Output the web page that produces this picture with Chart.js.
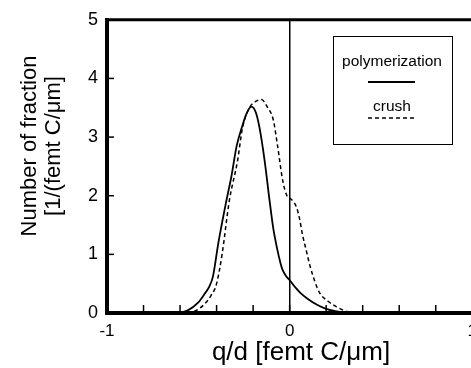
<!DOCTYPE html>
<html><head><meta charset="utf-8">
<script src="https://cdn.jsdelivr.net/npm/chart.js@4/dist/chart.umd.min.js"></script>
<style>html,body{margin:0;padding:0;background:#fff;overflow:hidden}#wrap{width:485px;height:368px}</style>
</head><body><div id="wrap"><canvas id="c" width="485" height="368"></canvas></div>
<script>
const seriesNames = ["polymerization", "crush"];
const polyX = [-0.62,-0.56,-0.50,-0.467,-0.44,-0.42,-0.39,-0.346,-0.32,-0.29,-0.26,-0.236,-0.21,-0.185,-0.165,-0.137,-0.11,-0.09,-0.07,-0.05,-0.038,-0.02,0,0.03,0.06,0.1,0.15,0.2,0.25,0.31];
const polyY = [0,0.04,0.18,0.32,0.45,0.62,1.2,1.92,2.31,2.85,3.18,3.4,3.52,3.42,3.16,2.6,1.92,1.45,1.12,0.85,0.73,0.63,0.56,0.44,0.34,0.24,0.14,0.07,0.03,0];
const crushX = [-0.56,-0.52,-0.47,-0.43,-0.40,-0.37,-0.33,-0.285,-0.258,-0.22,-0.19,-0.154,-0.12,-0.09,-0.066,-0.038,-0.015,0,0.02,0.038,0.055,0.07,0.09,0.11,0.14,0.165,0.21,0.26,0.3,0.35];
const crushY = [0,0.03,0.14,0.3,0.5,1.0,1.92,2.6,3.16,3.5,3.6,3.64,3.5,3.3,2.85,2.26,2.0,1.96,1.9,1.8,1.6,1.34,1.08,0.82,0.52,0.34,0.2,0.1,0.04,0];
const xTickValues = [-1,-0.8,-0.6,-0.4,-0.2,0,0.2,0.4,0.6,0.8,1];
const xTickLabels = {"-1":"-1","0":"0","1":"1"};
const yTickValues = [0,1,2,3,4,5];
const xTitle = "q/d [femt C/\u03bcm]";
const yTitle = ["Number of fraction", "[1/(femt C/\u03bcm]"];

const FONT = "'Liberation Sans', Arial, Helvetica, sans-serif";

function pts(xs, ys){ return xs.map((x,i)=>({x:x, y:ys[i]})); }

const overlay = {
  id: 'overlay',
  afterDraw(chart){
    const ctx = chart.ctx, a = chart.chartArea, xs = chart.scales.x, ys = chart.scales.y;
    ctx.save();
    ctx.strokeStyle = '#000'; ctx.fillStyle = '#000';
    ctx.lineWidth = 3;
    ctx.beginPath(); ctx.moveTo(a.left - 2, a.top); ctx.lineTo(a.right + 10, a.top); ctx.stroke();
    ctx.lineWidth = 1.5;
    xs.ticks.forEach(t => {
      const p = xs.getPixelForValue(t.value);
      ctx.beginPath(); ctx.moveTo(p, a.bottom); ctx.lineTo(p, a.bottom - 8); ctx.stroke();
    });
    ys.ticks.forEach(t => {
      if (t.value <= ys.min || t.value >= ys.max) return;
      const p = ys.getPixelForValue(t.value);
      ctx.beginPath(); ctx.moveTo(a.left, p); ctx.lineTo(a.left + 7, p); ctx.stroke();
    });
    ctx.lineWidth = 1;
    ctx.strokeRect(333.5, 36.5, 119, 108);
    ctx.font = "15.5px " + FONT;
    ctx.textAlign = 'center'; ctx.textBaseline = 'alphabetic';
    const ds = chart.data.datasets;
    const rows = [{t:65.5, l:82}, {t:110.5, l:118}];
    ds.forEach((d, i) => {
      ctx.fillText(d.label, 392, rows[i].t);
      ctx.save();
      ctx.lineWidth = d.borderWidth;
      ctx.setLineDash(d.borderDash || []);
      ctx.beginPath(); ctx.moveTo(368, rows[i].l); ctx.lineTo(415, rows[i].l); ctx.stroke();
      ctx.restore();
    });
    ctx.font = "26px " + FONT;
    ctx.fillText(xTitle, 301, 360);
    ctx.font = "22px " + FONT;
    const yb = [36, 60];
    yTitle.forEach((s, i) => {
      ctx.save();
      ctx.translate(yb[i], 146);
      ctx.rotate(-Math.PI / 2);
      ctx.fillText(s, 0, 0);
      ctx.restore();
    });
    ctx.restore();
  }
};

new Chart(document.getElementById('c'), {
  type: 'scatter',
  data: {
    datasets: [
      { label: seriesNames[0], data: pts(polyX, polyY), showLine: true, borderColor: '#000', borderWidth: 1.8,
        pointRadius: 0, cubicInterpolationMode: 'monotone', fill: false },
      { label: seriesNames[1], data: pts(crushX, crushY), showLine: true, borderColor: '#000', borderWidth: 1.5,
        borderDash: [4, 3], pointRadius: 0, cubicInterpolationMode: 'monotone', fill: false }
    ]
  },
  options: {
    responsive: false, animation: false,
    layout: { padding: { left: 0, top: 19, right: 8, bottom: 0 } },
    plugins: { legend: { display: false }, tooltip: { enabled: false } },
    scales: {
      x: {
        type: 'linear', min: -1, max: 1,
        afterBuildTicks(s){ s.ticks = xTickValues.map(v => ({ value: v })); },
        afterFit(s){ s.height = 55; },
        ticks: { color: '#000', font: { family: FONT, size: 17 }, padding: 8, maxRotation: 0, autoSkip: false,
                 callback: (v) => { const k = String(Math.round(v * 1000) / 1000); return xTickLabels[k] !== undefined ? xTickLabels[k] : ''; } },
        grid: { drawTicks: false, drawOnChartArea: true,
                color: (c) => (c.tick && Math.abs(c.tick.value) < 1e-9) ? '#000' : 'rgba(0,0,0,0)', lineWidth: 1.5 },
        border: { display: true, color: '#000', width: 4 }
      },
      y: {
        type: 'linear', min: 0, max: 5,
        afterBuildTicks(s){ s.ticks = yTickValues.map(v => ({ value: v })); },
        afterFit(s){ s.width = 107; },
        ticks: { color: '#000', font: { family: FONT, size: 18 }, padding: 9 },
        grid: { display: false, drawTicks: false },
        border: { display: true, color: '#000', width: 4 }
      }
    }
  },
  plugins: [overlay]
});
</script>
</body></html>
